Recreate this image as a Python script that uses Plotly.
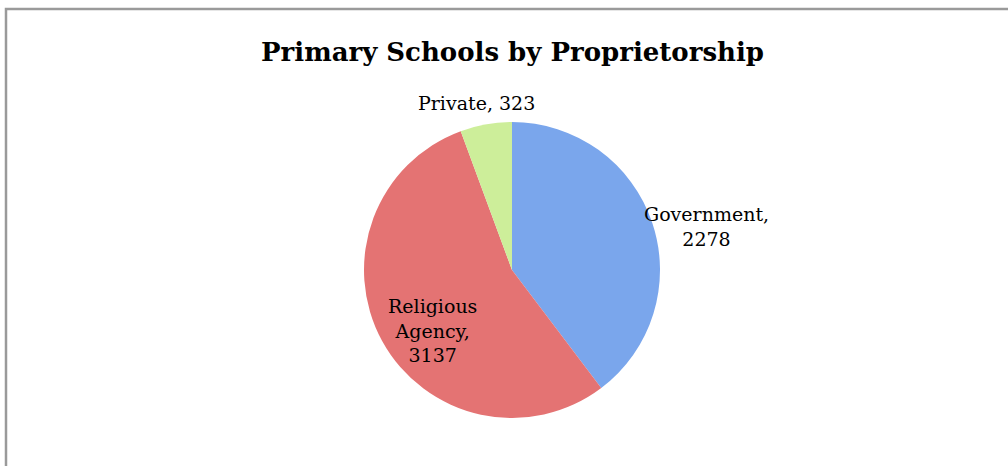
import plotly.graph_objects as go

categories = ["Government", "Religious Agency", "Private"]
values = [2278, 3137, 323]
label_lines = ["Government,<br>{v}", "Religious<br>Agency,<br>{v}", "Private, {v}"]
colors = ["#7AA6EC", "#E47373", "#CDEE9A"]
title_text = "Primary Schools by Proprietorship"

W, H = 1008, 466
cx, cy, r = 512, 270, 148

fig = go.Figure()
fig.add_trace(go.Pie(
    labels=categories,
    values=values,
    sort=False,
    direction="clockwise",
    rotation=0,
    textinfo="none",
    hoverinfo="label+value",
    marker=dict(colors=colors, line=dict(color="white", width=0)),
    showlegend=False,
    domain=dict(x=[(cx - r) / W, (cx + r) / W], y=[(H - cy - r) / H, (H - cy + r) / H]),
))

serif = "DejaVu Serif, Liberation Serif, serif"
label_pos = [(706, 227), (432, 330), (476, 103)]
for tmpl, v, (px, py) in zip(label_lines, values, label_pos):
    fig.add_annotation(
        text=tmpl.format(v=v), x=px / W, y=1 - py / H, xref="paper", yref="paper",
        showarrow=False, font=dict(family=serif, size=19, color="#000000"),
        xanchor="center", yanchor="middle", align="center",
    )

fig.add_annotation(
    text="<b>" + title_text + "</b>", x=512 / W, y=1 - 52 / H, xref="paper", yref="paper",
    showarrow=False, font=dict(family=serif, size=26, color="#000000"),
    xanchor="center", yanchor="middle",
)

fig.add_shape(type="rect", xref="paper", yref="paper",
              x0=6 / W, y0=-0.2, x1=1.2, y1=1 - 9 / H,
              line=dict(color="#9A9A9A", width=2.5), fillcolor="rgba(0,0,0,0)")

fig.update_layout(
    width=W, height=H,
    margin=dict(l=0, r=0, t=0, b=0),
    paper_bgcolor="white", plot_bgcolor="white",
)

fig.write_html("out.html")
